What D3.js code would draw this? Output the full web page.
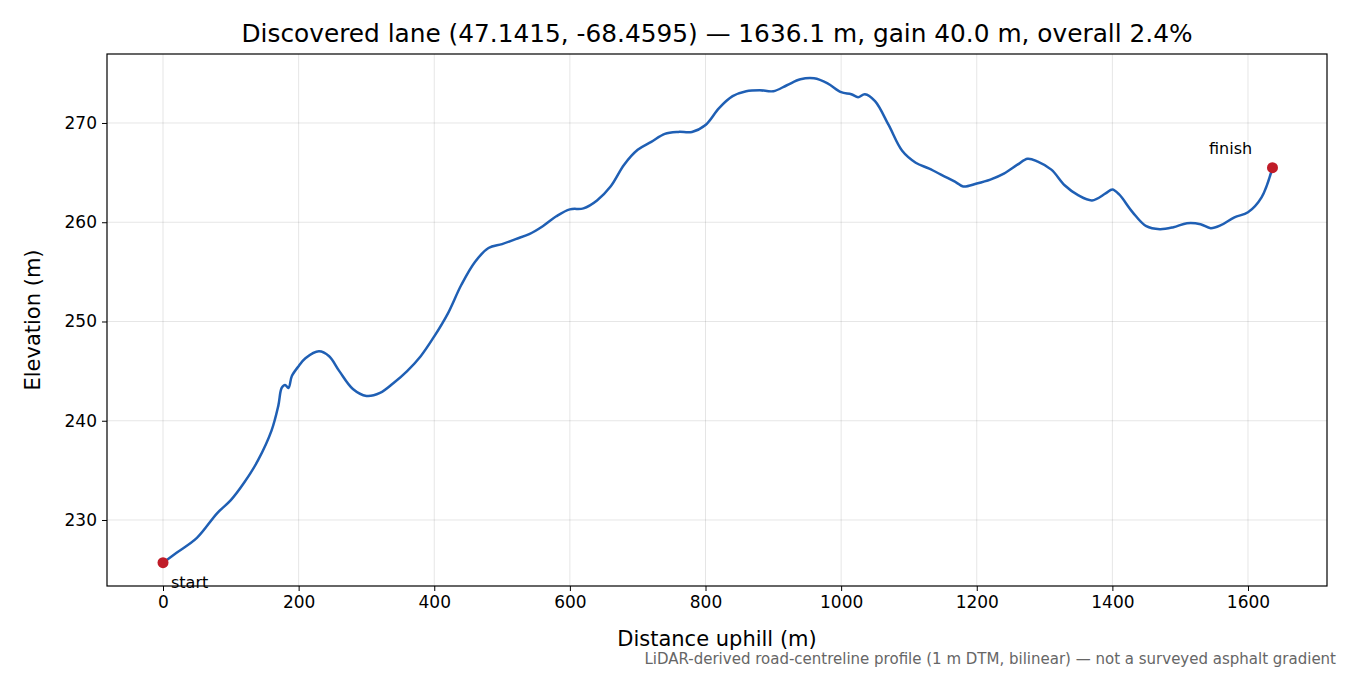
<!DOCTYPE html><html><head><meta charset="utf-8"><script src="https://cdn.jsdelivr.net/npm/d3@7"></script>
<style>body{margin:0;background:#fff}text{font-family:"DejaVu Sans",sans-serif}</style></head><body><svg id="c" width="1350" height="675"></svg><script>
const dist=[0,20,50,80,100,120,140,160,170,175,180,185,190,200,210,230,245,260,280,300,320,340,360,380,400,420,440,460,480,500,520,540,560,580,600,620,640,660,680,700,720,740,760,780,800,820,840,860,880,900,920,940,960,980,1000,1015,1025,1035,1050,1070,1090,1110,1130,1150,1170,1180,1200,1220,1240,1260,1275,1290,1310,1330,1350,1370,1390,1400,1410,1430,1450,1470,1490,1510,1530,1545,1560,1580,1600,1620,1636.1];
const elev=[225.7,226.7,228.2,230.7,232.0,233.8,236.0,239.0,241.5,243.3,243.6,243.3,244.5,245.5,246.3,247.0,246.5,245.0,243.2,242.5,242.8,243.8,245.0,246.5,248.5,250.8,253.7,256.0,257.4,257.8,258.3,258.8,259.6,260.6,261.3,261.4,262.2,263.6,265.8,267.3,268.1,268.9,269.1,269.1,269.8,271.5,272.7,273.2,273.3,273.2,273.8,274.4,274.5,274.0,273.1,272.9,272.6,272.9,272.2,269.8,267.2,266.0,265.4,264.7,264.0,263.6,263.9,264.3,264.9,265.8,266.4,266.1,265.3,263.7,262.7,262.2,262.9,263.3,262.8,261.0,259.6,259.3,259.5,259.9,259.8,259.4,259.7,260.5,261.0,262.5,265.5];
const xTicks=[0,200,400,600,800,1000,1200,1400,1600];
const yTicks=[230,240,250,260,270];
const svg=d3.select("#c");
const L=107,R=1327,T=54,B=586;
const x=d3.scaleLinear().domain([-82.6,1716.5]).range([L,R]);
const y=d3.scaleLinear().domain([223.35,276.95]).range([B,T]);
const g=svg.append("g");
xTicks.forEach(t=>g.append("line").attr("x1",x(t)).attr("x2",x(t)).attr("y1",T).attr("y2",B).attr("stroke","#000").attr("stroke-opacity",0.1));
yTicks.forEach(t=>g.append("line").attr("y1",y(t)).attr("y2",y(t)).attr("x1",L).attr("x2",R).attr("stroke","#000").attr("stroke-opacity",0.1));
const pts=dist.map((d,i)=>[d,elev[i]]);
svg.append("path").attr("d",d3.line().x(d=>x(d[0])).y(d=>y(d[1])).curve(d3.curveCatmullRom)(pts)).attr("fill","none").attr("stroke","#1f5fb4").attr("stroke-width",2.5);
[pts[0],pts[pts.length-1]].forEach(p=>svg.append("circle").attr("cx",x(p[0])).attr("cy",y(p[1])).attr("r",5.5).attr("fill","#c01c28"));
svg.append("text").attr("x",171).attr("y",588).attr("font-size",16).text("start");
svg.append("text").attr("x",1209).attr("y",154).attr("font-size",16).text("finish");
const xa=svg.append("g").attr("transform",`translate(0,${B})`).call(d3.axisBottom(x).tickValues(xTicks).tickFormat(d3.format("d")).tickSize(5).tickPadding(5));
const ya=svg.append("g").attr("transform",`translate(${L},0)`).call(d3.axisLeft(y).tickValues(yTicks).tickFormat(d3.format("d")).tickSize(5).tickPadding(5));
[xa,ya].forEach(a=>{a.select(".domain").remove();a.selectAll("text").attr("font-size",17).attr("font-family","DejaVu Sans").attr("fill","#000");a.selectAll("line").attr("stroke","#000");});
svg.append("rect").attr("x",L).attr("y",T).attr("width",R-L).attr("height",B-T).attr("fill","none").attr("stroke","#000").attr("stroke-width",1.2);
svg.append("text").attr("x",(L+R)/2).attr("y",42).attr("text-anchor","middle").attr("font-size",24.8).text("Discovered lane (47.1415, -68.4595) — 1636.1 m, gain 40.0 m, overall 2.4%");
svg.append("text").attr("x",(L+R)/2).attr("y",646).attr("text-anchor","middle").attr("font-size",21).text("Distance uphill (m)");
svg.append("text").attr("transform",`translate(40,${(T+B)/2}) rotate(-90)`).attr("text-anchor","middle").attr("font-size",21).text("Elevation (m)");
svg.append("text").attr("x",1336).attr("y",664).attr("text-anchor","end").attr("font-size",15).attr("fill","#666").text("LiDAR-derived road-centreline profile (1 m DTM, bilinear) — not a surveyed asphalt gradient");
</script></body></html>
